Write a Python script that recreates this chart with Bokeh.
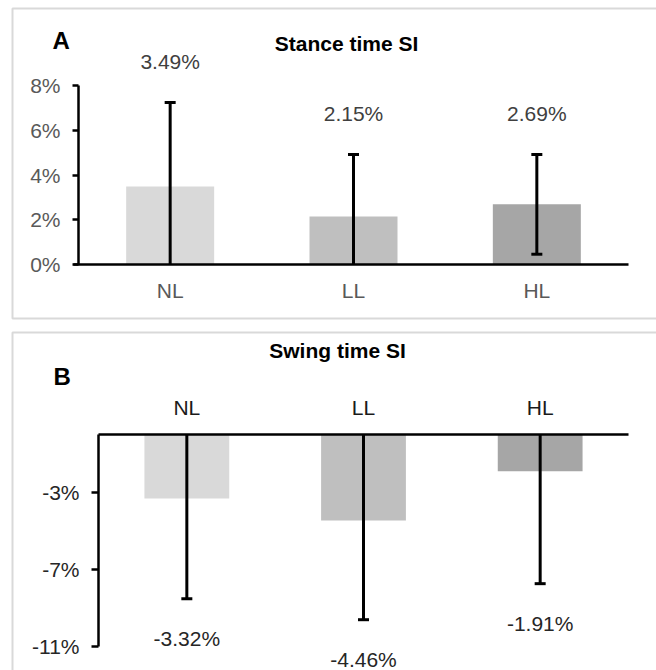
from bokeh.plotting import figure
from bokeh.models import (Range1d, FixedTicker, PrintfTickFormatter, LinearAxis,
                          ColumnDataSource, LabelSet, Label)
from bokeh.embed import file_html
from bokeh.resources import INLINE
from bokeh.core.properties import value

# ---- data ----
categories = ["NL", "LL", "HL"]
stance_mean = [3.49, 2.15, 2.69]
stance_sd = [3.75, 2.77, 2.23]
swing_mean = [-3.32, -4.46, -1.91]
swing_sd = [5.20, 5.15, 5.83]
stance_ticks = [0, 2, 4, 6, 8]
swing_ticks = [-11, -7, -3]
bar_colors = ["#d9d9d9", "#bfbfbf", "#a6a6a6"]

# ---- layout constants (pixels in the page) ----
W, H = 656, 670
FONT = "Liberation Sans"
LABEL_SIZE = "21px"
BORDER_COLOR = "#d9d9d9"
A_PX = dict(x0=78, x1=628, y_lo=264, y_hi=85)
B_PX = dict(x0=98, x1=628, y_lo=434, y_hi=646)

p = figure(width=W, height=H, x_range=Range1d(0, W), y_range=Range1d(H, 0),
           x_axis_type=None, y_axis_type=None, min_border=0,
           output_backend="svg", toolbar_location=None)
p.outline_line_color = None
p.background_fill_color = "white"


def xrange_for(px0, px1, n):
    per = (px1 - px0) / n
    return Range1d(start=-0.5 - px0 / per, end=-0.5 + (W - px0) / per), per


def yrange_for(p_a, v_a, p_b, v_b):
    per = (v_b - v_a) / (p_b - p_a)
    return Range1d(start=v_a + (H - p_a) * per, end=v_a + (0 - p_a) * per)


xA, perA = xrange_for(A_PX["x0"], A_PX["x1"], len(categories))
xB, perB = xrange_for(B_PX["x0"], B_PX["x1"], len(categories))
yA = yrange_for(A_PX["y_lo"], stance_ticks[0], A_PX["y_hi"], stance_ticks[-1])
yB = yrange_for(B_PX["y_lo"], 0, B_PX["y_hi"], swing_ticks[0])
p.extra_x_ranges = {"xA": xA, "xB": xB}
p.extra_y_ranges = {"yA": yA, "yB": yB}

# panel boxes (light grey frame, open on the right like the reference)
p.quad(left=12, right=W + 20, top=8, bottom=318, fill_color=None,
       line_color=BORDER_COLOR, line_width=2, level="underlay")
p.quad(left=12, right=W + 20, top=332, bottom=H + 20, fill_color=None,
       line_color=BORDER_COLOR, line_width=2, level="underlay")

xpos = list(range(len(categories)))
cat_overrides = {i: c for i, c in enumerate(categories)}


def panel(means, sds, ymin, ymax, xr, yr, label_field, label_offset, label_color):
    upper = [min(m + s, ymax) for m, s in zip(means, sds)]
    lower = [max(m - s, ymin) for m, s in zip(means, sds)]
    src = ColumnDataSource(dict(x=xpos, mean=means, upper=upper, lower=lower,
                                color=bar_colors,
                                label=["%.2f%%" % m for m in means]))
    kw = dict(x_range_name=xr, y_range_name=yr)
    p.vbar(x="x", top="mean", bottom=0, width=0.48, fill_color="color",
           line_color=None, source=src, **kw)
    p.segment(x0="x", y0="lower", x1="x", y1="upper", line_width=3,
              line_color="black", source=src, **kw)
    cx, cy = [], []
    for i, m, s in zip(xpos, means, sds):
        for end in (m + s, m - s):
            if ymin <= end <= ymax:
                cx.append(i)
                cy.append(end)
    p.scatter(x=cx, y=cy, marker="dash", size=11, line_width=3,
              line_color="black", **kw)
    p.add_layout(LabelSet(x="x", y=label_field, text="label", source=src,
                          y_offset=label_offset, text_align="center",
                          text_baseline="middle", text_font=value(FONT),
                          text_font_size=LABEL_SIZE, text_color=label_color,
                          **kw))


def style_axis(ax, color, tick_out, standoff):
    ax.axis_line_color = "black"
    ax.axis_line_width = 2.5
    ax.major_tick_line_color = "black"
    ax.major_tick_line_width = 2.5
    ax.major_tick_out = tick_out
    ax.major_tick_in = 0
    ax.minor_tick_out = 0
    ax.minor_tick_in = 0
    ax.major_label_standoff = standoff
    ax.major_label_text_font = FONT
    ax.major_label_text_font_size = LABEL_SIZE
    ax.major_label_text_color = color


# ---- Panel A: Stance time SI ----
panel(stance_mean, stance_sd, 0, 8, "xA", "yA", "upper", 41, "#404040")
ayA = LinearAxis(x_range_name="xA", y_range_name="yA", fixed_location=-0.5,
                 bounds=(0, 8), ticker=FixedTicker(ticks=stance_ticks),
                 formatter=PrintfTickFormatter(format="%d%%"))
style_axis(ayA, "#595959", 6, 12)
p.add_layout(ayA, "left")
axA = LinearAxis(x_range_name="xA", y_range_name="yA", fixed_location=0,
                 bounds=(-0.5 - 5 / perA, len(categories) - 0.5),
                 ticker=FixedTicker(ticks=xpos),
                 major_label_overrides=cat_overrides)
style_axis(axA, "#595959", 0, 14)
p.add_layout(axA, "below")

# ---- Panel B: Swing time SI ----
panel(swing_mean, swing_sd, -11, 0, "xB", "yB", "lower", -40, "#262626")
ayB = LinearAxis(x_range_name="xB", y_range_name="yB", fixed_location=-0.5,
                 bounds=(-11, 0), ticker=FixedTicker(ticks=swing_ticks),
                 formatter=PrintfTickFormatter(format="%d%%"))
style_axis(ayB, "#262626", 7, 12)
p.add_layout(ayB, "left")
axB = LinearAxis(x_range_name="xB", y_range_name="yB", fixed_location=0,
                 bounds=(-0.5, len(categories) - 0.5),
                 ticker=FixedTicker(ticks=xpos),
                 major_label_overrides=cat_overrides)
style_axis(axB, "#1a1a1a", 0, 16)
p.add_layout(axB, "above")


# ---- titles and panel letters ----
def add_text(x, y, text, size, align):
    p.add_layout(Label(x=x, y=y, text=text, text_align=align,
                       text_baseline="middle", text_font=FONT,
                       text_font_size=size, text_font_style="bold",
                       text_color="black"))


add_text(346, 43, "Stance time SI", "21px", "center")
add_text(52, 40, "A", "24px", "left")
add_text(337, 350, "Swing time SI", "21px", "center")
add_text(53, 376, "B", "24px", "left")

open("out.html", "w").write(file_html(p, INLINE))
